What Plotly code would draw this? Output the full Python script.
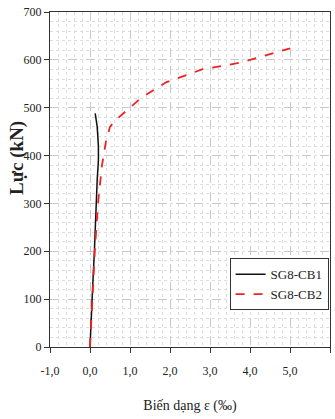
import plotly.graph_objects as go

strain_cb1 = [0.0, 0.02, 0.03, 0.06, 0.08, 0.11, 0.13, 0.15, 0.18, 0.21, 0.21, 0.18, 0.13]
load_cb1 = [0, 40, 80, 110, 150, 200, 250, 300, 350, 390, 420, 460, 488]

strain_cb2 = [0.0, 0.03, 0.07, 0.12, 0.2, 0.3, 0.4, 0.5, 0.65, 1.0, 1.3, 1.9, 2.4, 2.8, 3.3, 3.8, 4.3, 5.0]
load_cb2 = [0, 50, 100, 200, 300, 380, 430, 460, 475, 500, 522, 553, 568, 580, 587, 595, 607, 624]

x_ticks = [-1, 0, 1, 2, 3, 4, 5, 6]
x_labels = ["-1,0", "0,0", "1,0", "2,0", "3,0", "4,0", "5,0", "6,0"]
y_ticks = [0, 100, 200, 300, 400, 500, 600, 700]

serif = "Liberation Serif, Times New Roman, serif"

fig = go.Figure()
fig.add_trace(go.Scatter(x=strain_cb1, y=load_cb1, mode="lines", name="SG8-CB1",
                         line=dict(color="#111111", width=1.5)))
fig.add_trace(go.Scatter(x=strain_cb2, y=load_cb2, mode="lines", name="SG8-CB2",
                         line=dict(color="#ee2222", width=1.8, dash="dash")))

fig.add_annotation(text="<b>Lực (kN)</b>", xref="paper", yref="paper",
                   x=-0.118, y=0.564, textangle=-90, showarrow=False,
                   xanchor="center", yanchor="middle",
                   font=dict(family=serif, size=19, color="#222222"))

fig.update_layout(
    width=335, height=419,
    margin=dict(l=50, r=5, t=12, b=72),
    paper_bgcolor="white", plot_bgcolor="white",
    font=dict(family=serif, size=12, color="#222222"),
    showlegend=True,
    legend=dict(x=0.995, y=0.265, xanchor="right", yanchor="top",
                bgcolor="white", bordercolor="#333333", borderwidth=1,
                font=dict(family=serif, size=13, color="#222222"),
                tracegroupgap=4),
    xaxis=dict(
        range=[-1, 6], tickvals=x_ticks, ticktext=x_labels,
        showgrid=True, gridcolor="#c8c8c8", griddash="dash", gridwidth=1,
        minor=dict(dtick=0.2, showgrid=True, gridcolor="#dddddd", griddash="dot", gridwidth=1),
        showline=True, linecolor="#333333", linewidth=1, mirror=True,
        ticks="outside", ticklen=5, tickcolor="#333333",
        ticklabelstandoff=8,
        zeroline=False,
        title=dict(text="Biến dạng ε (‰)", font=dict(family=serif, size=14, color="#222222"), standoff=22),
    ),
    yaxis=dict(
        range=[0, 700], tickvals=y_ticks,
        showgrid=True, gridcolor="#c8c8c8", griddash="dash", gridwidth=1,
        minor=dict(dtick=20, showgrid=True, gridcolor="#dddddd", griddash="dot", gridwidth=1),
        showline=True, linecolor="#333333", linewidth=1, mirror=True,
        ticks="outside", ticklen=5, tickcolor="#333333",
        zeroline=False,
    ),
)

fig.write_html("out.html")
